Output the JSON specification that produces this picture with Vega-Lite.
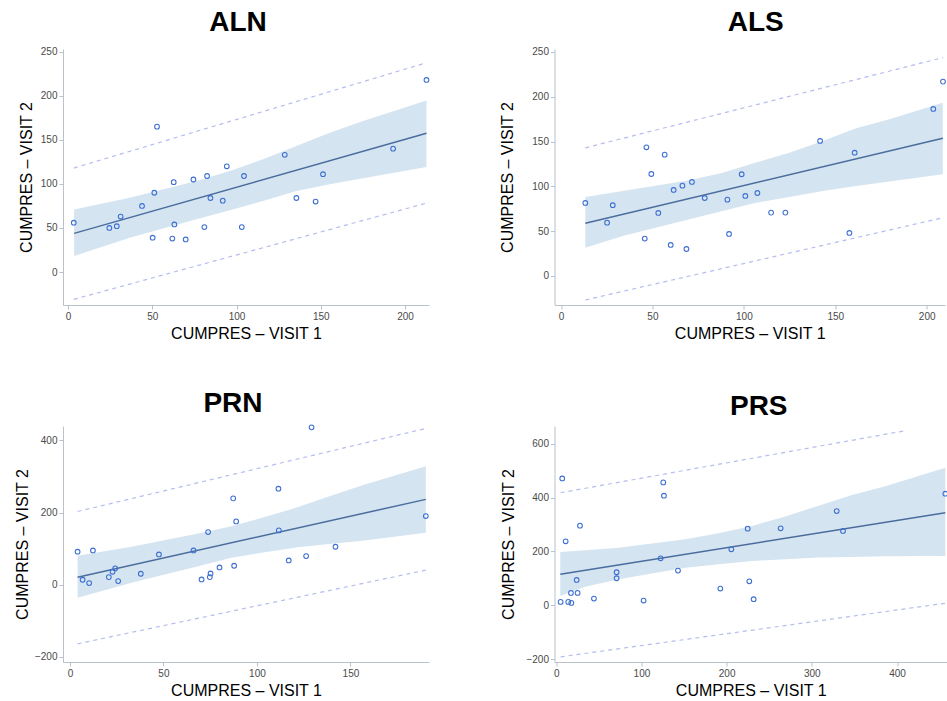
{
  "$schema": "https://vega.github.io/schema/vega-lite/v6.json",
  "background": "white",
  "padding": {"left": 14, "top": 8, "right": 0, "bottom": 0},
  "config": {
    "view": {"stroke": null},
    "font": "Liberation Sans",
    "axis": {"grid": false, "domainColor": "#b9c2cb", "tickColor": "#b9c2cb", "tickSize": 4, "labelFontSize": 10, "labelColor": "#4a4a4a", "labelFont": "Liberation Sans", "titleFont": "Liberation Sans", "titleFontSize": 16, "titleFontWeight": "normal", "titleColor": "#000000", "labelPadding": 2, "labelFlush": false, "labelOverlap": false},
    "title": {"fontSize": 28, "fontWeight": "bold", "font": "Liberation Sans", "color": "#000000", "anchor": "middle", "offset": 10}
  },
  "datasets": {
    "aln_pts": [
      {"x": 3.4, "y": 56}, {"x": 24.5, "y": 50}, {"x": 28.9, "y": 52}, {"x": 31.2, "y": 63}, {"x": 43.9, "y": 75}, {"x": 50.2, "y": 39}, {"x": 51.2, "y": 90}, {"x": 52.8, "y": 165}, {"x": 61.9, "y": 38}, {"x": 62.7, "y": 102}, {"x": 63.1, "y": 54}, {"x": 69.8, "y": 37}, {"x": 74.4, "y": 105}, {"x": 80.9, "y": 51}, {"x": 82.5, "y": 109}, {"x": 84.5, "y": 84}, {"x": 91.8, "y": 81}, {"x": 94.2, "y": 120}, {"x": 103.1, "y": 51}, {"x": 104.4, "y": 109}, {"x": 128.6, "y": 133}, {"x": 135.5, "y": 84}, {"x": 146.9, "y": 80}, {"x": 151.3, "y": 111}, {"x": 192.9, "y": 140}, {"x": 212.7, "y": 218}
    ],
    "aln_fit": [{"x": 3.6, "y": 43.9}, {"x": 212.7, "y": 157.4}],
    "aln_band": [
      {"x": 3.6, "y": 18.2, "y2": 71.1}, {"x": 36.6, "y": 39, "y2": 84.3}, {"x": 76.2, "y": 59.8, "y2": 103.3}, {"x": 96, "y": 70, "y2": 114.6}, {"x": 115.7, "y": 80.6, "y2": 127.9}, {"x": 135.5, "y": 91.9, "y2": 143}, {"x": 155.3, "y": 99.5, "y2": 158.1}, {"x": 175.1, "y": 106.3, "y2": 171.4}, {"x": 212.7, "y": 119.2, "y2": 194.8}
    ],
    "aln_pred": [{"x": 3.4, "y": 118, "s": "u"}, {"x": 212.7, "y": 237.5, "s": "u"}, {"x": 3.4, "y": -31, "s": "l"}, {"x": 214.2, "y": 79, "s": "l"}],
    "als_pts": [
      {"x": 13.3, "y": 81.5}, {"x": 25.2, "y": 59.5}, {"x": 28.3, "y": 79}, {"x": 45.8, "y": 41.7}, {"x": 46.7, "y": 143.6}, {"x": 49.4, "y": 113.8}, {"x": 53.2, "y": 70.3}, {"x": 56.7, "y": 135.4}, {"x": 60, "y": 34.6}, {"x": 61.6, "y": 96}, {"x": 66.4, "y": 100.8}, {"x": 68.6, "y": 30.1}, {"x": 71.6, "y": 104.9}, {"x": 78.6, "y": 87}, {"x": 91, "y": 85.2}, {"x": 91.9, "y": 46.9}, {"x": 98.8, "y": 113.5}, {"x": 100.8, "y": 89.3}, {"x": 107.4, "y": 92.6}, {"x": 114.9, "y": 70.7}, {"x": 122.7, "y": 70.7}, {"x": 141.7, "y": 150.7}, {"x": 157.7, "y": 48}, {"x": 160.6, "y": 137.6}, {"x": 203.6, "y": 186.4}, {"x": 208.9, "y": 216.9}
    ],
    "als_fit": [{"x": 13.3, "y": 58.8}, {"x": 208.8, "y": 153.7}],
    "als_band": [
      {"x": 13.3, "y": 31.6, "y2": 88.2}, {"x": 33.7, "y": 44.6, "y2": 94.9}, {"x": 70.2, "y": 63.2, "y2": 106.8}, {"x": 88.4, "y": 72.5, "y2": 115.3}, {"x": 106.7, "y": 81.8, "y2": 126.5}, {"x": 124.9, "y": 88.2, "y2": 137.6}, {"x": 143.1, "y": 94.9, "y2": 150.7}, {"x": 161.4, "y": 100.4, "y2": 164.8}, {"x": 179.6, "y": 105.3, "y2": 174.9}, {"x": 208.8, "y": 113.5, "y2": 193.4}
    ],
    "als_pred": [{"x": 13.3, "y": 143, "s": "u"}, {"x": 208.9, "y": 243.7, "s": "u"}, {"x": 13.3, "y": -26.8, "s": "l"}, {"x": 208.9, "y": 65, "s": "l"}],
    "prn_pts": [
      {"x": 4.1, "y": 91.5}, {"x": 6.8, "y": 13.9}, {"x": 10.3, "y": 4.6}, {"x": 12.3, "y": 95}, {"x": 20.8, "y": 21.2}, {"x": 22.8, "y": 36}, {"x": 24.2, "y": 45.3}, {"x": 25.8, "y": 10.2}, {"x": 37.9, "y": 30.5}, {"x": 47.6, "y": 84}, {"x": 66.1, "y": 95}, {"x": 70.4, "y": 14.8}, {"x": 73.9, "y": 146}, {"x": 74.8, "y": 21.2}, {"x": 75.2, "y": 31.4}, {"x": 80, "y": 48}, {"x": 87.3, "y": 239.3}, {"x": 87.8, "y": 52.7}, {"x": 88.9, "y": 175.5}, {"x": 111.5, "y": 266}, {"x": 111.7, "y": 150.6}, {"x": 117, "y": 67.4}, {"x": 126.3, "y": 79.4}, {"x": 142, "y": 105.3}, {"x": 129.2, "y": 436}, {"x": 190.3, "y": 190.3}
    ],
    "prn_fit": [{"x": 4.1, "y": 21}, {"x": 190.3, "y": 236.5}],
    "prn_band": [
      {"x": 4.1, "y": -36.3, "y2": 80.2}, {"x": 33, "y": 5.3, "y2": 105.1}, {"x": 68.6, "y": 51.5, "y2": 142.1}, {"x": 86.4, "y": 74.6, "y2": 162.4}, {"x": 104.2, "y": 90.3, "y2": 187.4}, {"x": 122, "y": 104.2, "y2": 215.1}, {"x": 139.9, "y": 113.5, "y2": 247.5}, {"x": 157.7, "y": 122.7, "y2": 278}, {"x": 190.3, "y": 144, "y2": 327.9}
    ],
    "prn_pred": [{"x": 4.1, "y": 203, "s": "u"}, {"x": 190.3, "y": 433, "s": "u"}, {"x": 4.1, "y": -163.5, "s": "l"}, {"x": 190.3, "y": 40.6, "s": "l"}],
    "prs_pts": [
      {"x": 5.1, "y": 12.4}, {"x": 7, "y": 471}, {"x": 11, "y": 237.5}, {"x": 14.1, "y": 12.4}, {"x": 17.2, "y": 45.8}, {"x": 17.6, "y": 8.7}, {"x": 23.9, "y": 94}, {"x": 25, "y": 45.8}, {"x": 27.8, "y": 295.7}, {"x": 44.2, "y": 24.7}, {"x": 70.8, "y": 122.5}, {"x": 70.8, "y": 100.2}, {"x": 102.5, "y": 17.3}, {"x": 122.5, "y": 174.4}, {"x": 125.6, "y": 456.5}, {"x": 126.4, "y": 407}, {"x": 142.9, "y": 128.7}, {"x": 192.6, "y": 61.9}, {"x": 205.5, "y": 207.8}, {"x": 224.7, "y": 284.5}, {"x": 226.6, "y": 89}, {"x": 231.7, "y": 22.3}, {"x": 263.4, "y": 285.8}, {"x": 329.2, "y": 350}, {"x": 336.6, "y": 275.9}, {"x": 456.8, "y": 414.4}
    ],
    "prs_fit": [{"x": 4.7, "y": 115.2}, {"x": 456.7, "y": 344}],
    "prs_band": [
      {"x": 4.7, "y": 34.6, "y2": 198}, {"x": 34, "y": 69, "y2": 204}, {"x": 73.3, "y": 96.6, "y2": 214}, {"x": 151.5, "y": 139.7, "y2": 245}, {"x": 190.7, "y": 152.4, "y2": 267.5}, {"x": 229.8, "y": 164.6, "y2": 294.7}, {"x": 268.9, "y": 170.9, "y2": 330}, {"x": 308.1, "y": 176.9, "y2": 370}, {"x": 347.2, "y": 179.5, "y2": 410}, {"x": 386.3, "y": 182, "y2": 442}, {"x": 456.7, "y": 183.2, "y2": 511.3}
    ],
    "prs_pred": [{"x": 5.1, "y": 418, "s": "u"}, {"x": 411.4, "y": 649.5, "s": "u"}, {"x": 5.1, "y": -191.8, "s": "l"}, {"x": 456.8, "y": 7.4, "s": "l"}]
  },
  "bounds": "flush",
  "spacing": {"row": 121, "column": 125.5},
  "columns": 2,
  "concat": [
    {
      "width": 366, "height": 256,
      "title": {"text": "ALN", "dx": -8},
      "encoding": {
        "x": {"field": "x", "type": "quantitative", "scale": {"domain": [-3, 214.2], "nice": false, "zero": false}, "axis": {"title": "CUMPRES – VISIT 1", "values": [0, 50, 100, 150, 200], "titlePadding": 4}},
        "y": {"field": "y", "type": "quantitative", "scale": {"domain": [-37.4, 253.1], "nice": false, "zero": false}, "axis": {"title": "CUMPRES – VISIT 2", "values": [0, 50, 100, 150, 200, 250], "titlePadding": 6}}
      },
      "layer": [
        {"data": {"name": "aln_band"}, "mark": {"type": "area", "color": "#d5e4f1", "opacity": 1}, "encoding": {"y2": {"field": "y2"}}},
        {"data": {"name": "aln_pred"}, "mark": {"type": "line", "color": "#b3bdf0", "strokeDash": [4, 4], "strokeWidth": 1.2}, "encoding": {"detail": {"field": "s"}}},
        {"data": {"name": "aln_fit"}, "mark": {"type": "line", "color": "#4a6d9e", "strokeWidth": 1.5}, "encoding": {}},
        {"data": {"name": "aln_pts"}, "mark": {"type": "point", "shape": "circle", "filled": false, "color": "#3d6fd1", "size": 22, "strokeWidth": 1.1, "opacity": 1}, "encoding": {}}
      ]
    },
    {
      "width": 390.5, "height": 256,
      "title": {"text": "ALS", "dx": 6},
      "encoding": {
        "x": {"field": "x", "type": "quantitative", "scale": {"domain": [-3.56, 210], "nice": false, "zero": false}, "axis": {"title": "CUMPRES – VISIT 1", "values": [0, 50, 100, 150, 200], "titlePadding": 4}},
        "y": {"field": "y", "type": "quantitative", "scale": {"domain": [-32.4, 253.3], "nice": false, "zero": false}, "axis": {"title": "CUMPRES – VISIT 2", "values": [0, 50, 100, 150, 200, 250], "titlePadding": 16}}
      },
      "layer": [
        {"data": {"name": "als_band"}, "mark": {"type": "area", "color": "#d5e4f1", "opacity": 1}, "encoding": {"y2": {"field": "y2"}}},
        {"data": {"name": "als_pred"}, "mark": {"type": "line", "color": "#b3bdf0", "strokeDash": [4, 4], "strokeWidth": 1.2}, "encoding": {"detail": {"field": "s"}}},
        {"data": {"name": "als_fit"}, "mark": {"type": "line", "color": "#4a6d9e", "strokeWidth": 1.5}, "encoding": {}},
        {"data": {"name": "als_pts"}, "mark": {"type": "point", "shape": "circle", "filled": false, "color": "#3d6fd1", "size": 22, "strokeWidth": 1.1, "opacity": 1}, "encoding": {}}
      ]
    },
    {
      "width": 366, "height": 236,
      "title": {"text": "PRN", "dx": -13, "offset": 5},
      "encoding": {
        "x": {"field": "x", "type": "quantitative", "scale": {"domain": [-3.7, 192], "nice": false, "zero": false}, "axis": {"title": "CUMPRES – VISIT 1", "values": [0, 50, 100, 150], "titlePadding": 4}},
        "y": {"field": "y", "type": "quantitative", "scale": {"domain": [-213.9, 439.7], "nice": false, "zero": false}, "axis": {"title": "CUMPRES – VISIT 2", "values": [-200, 0, 200, 400], "titlePadding": 4}}
      },
      "layer": [
        {"data": {"name": "prn_band"}, "mark": {"type": "area", "color": "#d5e4f1", "opacity": 1}, "encoding": {"y2": {"field": "y2"}}},
        {"data": {"name": "prn_pred"}, "mark": {"type": "line", "color": "#b3bdf0", "strokeDash": [4, 4], "strokeWidth": 1.2}, "encoding": {"detail": {"field": "s"}}},
        {"data": {"name": "prn_fit"}, "mark": {"type": "line", "color": "#4a6d9e", "strokeWidth": 1.5}, "encoding": {}},
        {"data": {"name": "prn_pts"}, "mark": {"type": "point", "shape": "circle", "filled": false, "color": "#3d6fd1", "size": 22, "strokeWidth": 1.1, "opacity": 1}, "encoding": {}}
      ]
    },
    {
      "width": 392.5, "height": 236,
      "title": {"text": "PRS", "dx": 8, "offset": 5},
      "encoding": {
        "x": {"field": "x", "type": "quantitative", "scale": {"domain": [-2.1, 458.7], "nice": false, "zero": false}, "axis": {"title": "CUMPRES – VISIT 1", "values": [0, 100, 200, 300, 400], "titlePadding": 4}},
        "y": {"field": "y", "type": "quantitative", "scale": {"domain": [-211, 666], "nice": false, "zero": false}, "axis": {"title": "CUMPRES – VISIT 2", "values": [-200, 0, 200, 400, 600], "titlePadding": 9}}
      },
      "layer": [
        {"data": {"name": "prs_band"}, "mark": {"type": "area", "color": "#d5e4f1", "opacity": 1}, "encoding": {"y2": {"field": "y2"}}},
        {"data": {"name": "prs_pred"}, "mark": {"type": "line", "color": "#b3bdf0", "strokeDash": [4, 4], "strokeWidth": 1.2}, "encoding": {"detail": {"field": "s"}}},
        {"data": {"name": "prs_fit"}, "mark": {"type": "line", "color": "#4a6d9e", "strokeWidth": 1.5}, "encoding": {}},
        {"data": {"name": "prs_pts"}, "mark": {"type": "point", "shape": "circle", "filled": false, "color": "#3d6fd1", "size": 22, "strokeWidth": 1.1, "opacity": 1}, "encoding": {}}
      ]
    }
  ]
}
